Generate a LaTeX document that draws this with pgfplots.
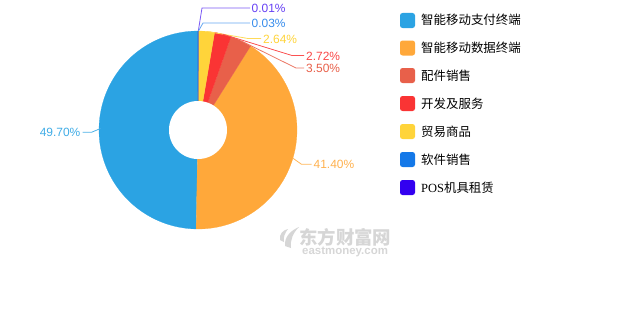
\documentclass[border=0pt]{standalone}
\usepackage{pgfplots}
\pgfplotsset{compat=1.18}
\usepackage{fontspec}
\setmainfont{Liberation Sans}
\newfontfamily\cjk{Noto Sans CJK SC}
\newfontfamily\serifpos{Liberation Serif}
\definecolor{cA}{HTML}{2BA3E3}
\definecolor{cB}{HTML}{FFA83A}
\definecolor{cC}{HTML}{E8604A}
\definecolor{cD}{HTML}{FA3434}
\definecolor{cE}{HTML}{FFD43A}
\definecolor{cF}{HTML}{1478E8}
\definecolor{cG}{HTML}{3300F0}
\definecolor{wm}{HTML}{D6D6D6}
% values (percent)
\def\vA{49.70}\def\vB{41.40}\def\vC{3.50}\def\vD{2.72}\def\vE{2.64}\def\vF{0.03}\def\vG{0.01}
\def\cx{198}\def\cy{200}\def\R{99}\def\r{29}
\pgfmathsetmacro\aO{90}
\pgfmathsetmacro\aA{\aO+3.6*\vA}
\pgfmathsetmacro\aB{\aA+3.6*\vB}
\pgfmathsetmacro\aC{\aB+3.6*\vC}
\pgfmathsetmacro\aD{\aC+3.6*\vD}
\pgfmathsetmacro\aE{\aD+3.6*\vE}
\pgfmathsetmacro\aF{\aE+3.6*\vF}
\pgfmathsetmacro\aG{\aF+3.6*\vG}
\begin{document}
\begin{tikzpicture}
\begin{axis}[width=630bp, height=330bp, scale only axis,
  xmin=0, xmax=630, ymin=0, ymax=330, hide axis, clip=false]
\path (axis cs:0,0) rectangle (axis cs:630,330);
% sectors
\addplot[fill=cA, draw=cA, line width=0.2pt, domain=\aO:\aA, samples=120] ({\cx+\R*cos(x)},{\cy+\R*sin(x)}) -- (axis cs:\cx,\cy) -- cycle;
\addplot[fill=cB, draw=cB, line width=0.2pt, domain=\aA:\aB, samples=120] ({\cx+\R*cos(x)},{\cy+\R*sin(x)}) -- (axis cs:\cx,\cy) -- cycle;
\addplot[fill=cC, draw=cC, line width=0.2pt, domain=\aB:\aC, samples=20] ({\cx+\R*cos(x)},{\cy+\R*sin(x)}) -- (axis cs:\cx,\cy) -- cycle;
\addplot[fill=cD, draw=cD, line width=0.2pt, domain=\aC:\aD, samples=20] ({\cx+\R*cos(x)},{\cy+\R*sin(x)}) -- (axis cs:\cx,\cy) -- cycle;
\addplot[fill=cE, draw=cE, line width=0.2pt, domain=\aD:\aE, samples=20] ({\cx+\R*cos(x)},{\cy+\R*sin(x)}) -- (axis cs:\cx,\cy) -- cycle;
\addplot[fill=cF, draw=cF, line width=0.2pt, domain=\aE:\aF, samples=2] ({\cx+\R*cos(x)},{\cy+\R*sin(x)}) -- (axis cs:\cx,\cy) -- cycle;
\addplot[fill=cG, draw=cG, line width=0.2pt, domain=\aF:\aG, samples=2] ({\cx+\R*cos(x)},{\cy+\R*sin(x)}) -- (axis cs:\cx,\cy) -- cycle;
% hole
\addplot[fill=white, draw=none, domain=0:360, samples=120] ({\cx+\r*cos(x)},{\cy+\r*sin(x)}) -- cycle;
% leader lines
\addplot[no marks, color=cA!85!white, line width=0.8pt] coordinates {(100.5,201.5) (91.5,197.7) (82.5,197.7)};
\addplot[no marks, color=cB!85!white, line width=0.8pt] coordinates {(292.9,171.8) (301.5,165.7) (311.5,165.7)};
\addplot[no marks, color=cG!65!white, line width=0.8pt] coordinates {(198.3,299) (202,322) (250,322)};
\addplot[no marks, color=cF!65!white, line width=0.8pt] coordinates {(198.5,299) (203,307) (250,307)};
\addplot[no marks, color=cE!85!white, line width=0.8pt] coordinates {(206.5,298.6) (248,291.5) (261,291.5)};
\addplot[no marks, color=cD!85!white, line width=0.8pt] coordinates {(222.8,295.8) (292,274.5) (304,274.5)};
\addplot[no marks, color=cC!85!white, line width=0.8pt] coordinates {(241,289.2) (296,262) (304,262)};
% labels
\begin{scope}[font=\fontsize{12}{14}\selectfont, inner sep=1pt]
\node[anchor=east, text=cA!90!white] at (axis cs:81.5,197.2) {49.70\%};
\node[anchor=west, text=cB!90!white] at (axis cs:312.5,165.2) {41.40\%};
\node[anchor=west, text=cG!75!white] at (axis cs:250.5,321.5) {0.01\%};
\node[anchor=west, text=cF!85!white] at (axis cs:250.5,306.5) {0.03\%};
\node[anchor=west, text=cE] at (axis cs:262,291) {2.64\%};
\node[anchor=west, text=cD!90!white] at (axis cs:305,274) {2.72\%};
\node[anchor=west, text=cC] at (axis cs:305,261.5) {3.50\%};
\end{scope}
% legend
\begin{scope}[font=\cjk\fontsize{12.5}{14}\selectfont, inner sep=0pt]
\fill[cA, rounded corners=2.5bp] (axis cs:400,317) rectangle (axis cs:415,302);
\node[anchor=west] at (axis cs:421,310) {智能移动支付终端};
\fill[cB, rounded corners=2.5bp] (axis cs:400,289.5) rectangle (axis cs:415,274.5);
\node[anchor=west] at (axis cs:421,282.5) {智能移动数据终端};
\fill[cC, rounded corners=2.5bp] (axis cs:400,262) rectangle (axis cs:415,247);
\node[anchor=west] at (axis cs:421,254.5) {配件销售};
\fill[cD, rounded corners=2.5bp] (axis cs:400,234) rectangle (axis cs:415,219);
\node[anchor=west] at (axis cs:421,226.5) {开发及服务};
\fill[cE, rounded corners=2.5bp] (axis cs:400,206) rectangle (axis cs:415,191);
\node[anchor=west] at (axis cs:421,198.5) {贸易商品};
\fill[cF, rounded corners=2.5bp] (axis cs:400,178) rectangle (axis cs:415,163);
\node[anchor=west] at (axis cs:421,170.5) {软件销售};
\fill[cG, rounded corners=2.5bp] (axis cs:400,150) rectangle (axis cs:415,135);
\node[anchor=west] at (axis cs:421,142.5) {{\serifpos POS}机具租赁};
\end{scope}
% watermark
\fill[wm] (axis cs:285,84) .. controls (axis cs:284,94) and (axis cs:292,100) .. (axis cs:299,103)
  .. controls (axis cs:293,97) and (axis cs:290,90) .. (axis cs:291,82) -- cycle;
\fill[wm] (axis cs:280,90) .. controls (axis cs:279,96) and (axis cs:283,100) .. (axis cs:288,101)
  .. controls (axis cs:285,97) and (axis cs:283,93) .. (axis cs:284,88) -- cycle;
\node[anchor=west, text=wm, font=\cjk\bfseries\fontsize{18.5}{19}\selectfont, inner sep=0pt] at (axis cs:299,93) {东方财富网};
\node[anchor=west, text=wm, font=\bfseries\fontsize{11.5}{12}\selectfont, inner sep=0pt] at (axis cs:302,78) {eastmoney.com};
\end{axis}
\end{tikzpicture}
\end{document}
